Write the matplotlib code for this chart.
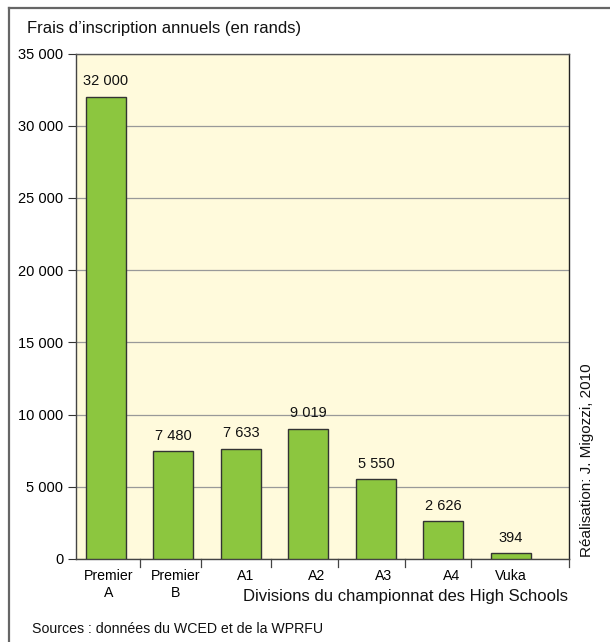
import matplotlib
matplotlib.use("Agg")
import matplotlib.pyplot as plt
from matplotlib.lines import Line2D
from matplotlib.transforms import ScaledTranslation

plt.rcParams['font.family'] = ['Liberation Sans', 'DejaVu Sans']

categories = ["Premier\nA", "Premier\nB", "A1", "A2", "A3", "A4", "Vuka"]
values = [32000, 7480, 7633, 9019, 5550, 2626, 394]
value_labels = ["32 000", "7 480", "7 633", "9 019", "5 550", "2 626", "394"]
yticks = [0, 5000, 10000, 15000, 20000, 25000, 30000, 35000]
ytick_labels = ["0", "5 000", "10 000", "15 000", "20 000", "25 000", "30 000", "35 000"]

W, H = 610, 642
fig = plt.figure(figsize=(W / 100, H / 100), dpi=100)
fig.patch.set_facecolor("white")

# axes in pixel coordinates
x0, x1, y0, y1 = 76, 569, 53.5, 559
ax = fig.add_axes([x0 / W, 1 - y1 / H, (x1 - x0) / W, (y1 - y0) / H])
ax.set_facecolor("#FFFADC")

pos = list(range(len(values)))
ax.bar(pos, values, width=0.594, color="#8CC63F", edgecolor="#333333", linewidth=1.0, zorder=3)
for p, v, lab in zip(pos, values, value_labels):
    ax.annotate(lab, (p, v), xytext=(0, 6), textcoords="offset points",
                ha="center", va="bottom", fontsize=10.5, color="#111111", zorder=4)

ax.set_xlim(-0.443, 6.86)
ax.set_ylim(0, 35000)
ax.set_yticks(yticks)
ax.set_yticklabels(ytick_labels, fontsize=10.5)
ax.yaxis.grid(True, color="#999999", linewidth=0.9, zorder=0)
ax.set_axisbelow(True)

# category labels
ax.set_xticks(pos)
ax.set_xticklabels(categories, fontsize=10.2, linespacing=1.3)
ax.tick_params(axis="x", length=0, pad=7)
ax.tick_params(axis="y", length=6, width=0.8, color="#333333", pad=3)
# slight horizontal shifts of the category labels as in the original layout
shifts_px = [3, 2, 5, 8, 8, 8, 0]
for lbl, dx in zip(ax.get_xticklabels(), shifts_px):
    lbl.set_transform(lbl.get_transform() + ScaledTranslation(dx / 100, 0, fig.dpi_scale_trans))
# boundary ticks
for b in [0.5, 1.416, 2.444, 3.443, 4.424, 5.405, 6.86]:
    ax.plot([b, b], [0, -0.015], transform=ax.get_xaxis_transform(), color="#444444",
            linewidth=0.9, clip_on=False, zorder=5)

for s in ["left", "bottom"]:
    ax.spines[s].set_color("#444444")
    ax.spines[s].set_linewidth(1.0)
ax.spines["right"].set_color("#222222")
ax.spines["right"].set_linewidth(1.0)
ax.spines["top"].set_color("#555555")
ax.spines["top"].set_linewidth(1.0)

# frame (top and left)
fig.add_artist(Line2D([9.3 / W, 1.0], [1 - 7.8 / H, 1 - 7.8 / H], color="#666666", linewidth=1.6))
fig.add_artist(Line2D([9.3 / W, 9.3 / W], [1 - 7.8 / H, 0.0], color="#666666", linewidth=1.6))

fig.text(27 / W, 1 - 28 / H, "Frais d\u2019inscription annuels (en rands)", fontsize=12,
         ha="left", va="center", color="#111111")
fig.text(568 / W, 1 - 597 / H, "Divisions du championnat des High Schools", fontsize=12,
         ha="right", va="center", color="#111111")
fig.text(32 / W, 1 - 629 / H, "Sources : donn\u00e9es du WCED et de la WPRFU", fontsize=10.2,
         ha="left", va="center", color="#111111")
fig.text(587 / W, 1 - 557 / H, "R\u00e9alisation: J. Migozzi, 2010", fontsize=11,
         rotation=90, ha="center", va="bottom", color="#111111")

fig.savefig("out.png", dpi=100)
